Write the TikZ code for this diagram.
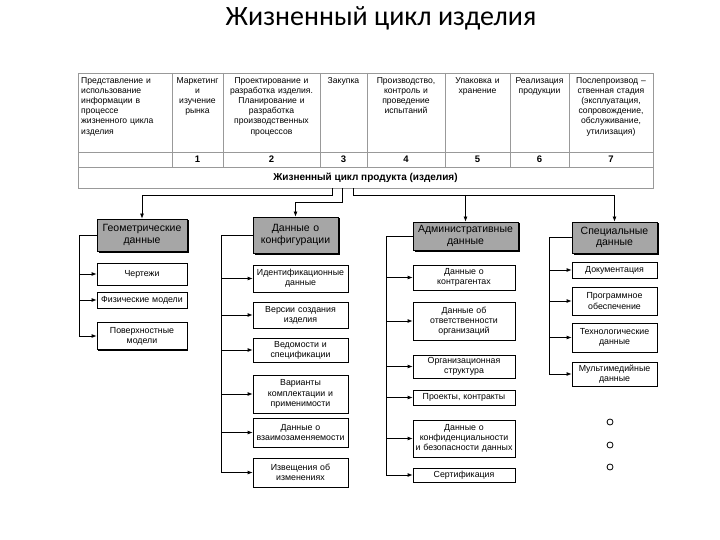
\documentclass[tikz,border=0pt]{standalone}
\usepackage{fontspec}
\setmainfont{Liberation Sans}
\newfontfamily\titlefont{Carlito}
\usetikzlibrary{arrows.meta,shadows}

\begin{document}
\begin{tikzpicture}
    [x=1pt,y=-1pt,
    table line/.style={draw=gray!80,line width=0.8pt},
    head cell/.style={anchor=north,align=center,inner sep=0pt,font=\fontsize{8.6}{10.2}\selectfont},
    number cell/.style={inner sep=0pt,font=\bfseries\fontsize{9.5}{10}\selectfont},
    category/.style={draw=black,line width=0.8pt,fill=gray!70,
        drop shadow={shadow xshift=1.5pt,shadow yshift=-1.5pt,fill=black,opacity=1},
        align=center,inner sep=1pt,font=\fontsize{10.5}{11.5}\selectfont},
    item/.style={draw=black,line width=0.8pt,fill=white,
        drop shadow={shadow xshift=1.2pt,shadow yshift=-1.2pt,fill=black,opacity=1},
        align=center,inner sep=1pt,font=\fontsize{8.8}{10.2}\selectfont},
    dot/.style={circle,draw=black,line width=0.8pt,minimum size=6pt,inner sep=0pt},
    link/.style={line width=0.8pt},
    link arrow/.style={line width=0.8pt,-{Latex[length=5pt,width=4pt]}},
    ]
    \useasboundingbox (0,0) rectangle (720,540);

    %title
    \node[font=\titlefont\fontsize{28}{32}\selectfont] (title) at (381,18) {Жизненный цикл изделия};

    %table
    \draw[table line] (78,73) rectangle (653,167);
    \draw[table line] (78,152) -- (653,152);
    \draw[table line] (172,73) -- (172,167);
    \draw[table line] (223,73) -- (223,167);
    \draw[table line] (320,73) -- (320,167);
    \draw[table line] (367,73) -- (367,167);
    \draw[table line] (445,73) -- (445,167);
    \draw[table line] (510,73) -- (510,167);
    \draw[table line] (569,73) -- (569,167);
    \node[head cell,anchor=north west,align=left,text width=88pt] (info) at (81,77)
        {Представление и\\использование\\информации в\\процессе\\жизненного цикла\\изделия};
    \node[head cell,text width=49pt] (market) at (197.5,77) {Маркетинг\\и\\изучение\\рынка};
    \node[head cell,text width=95pt] (design) at (271.5,77)
        {Проектирование и\\разработка изделия.\\Планирование и\\разработка\\производственных\\процессов};
    \node[head cell,text width=45pt] (buy) at (343.5,77) {Закупка};
    \node[head cell,text width=76pt] (make) at (406,77) {Производство,\\контроль и\\проведение\\испытаний};
    \node[head cell,text width=63pt] (pack) at (477.5,77) {Упаковка и\\хранение};
    \node[head cell,text width=57pt] (sale) at (539.5,77) {Реализация\\продукции};
    \node[head cell,text width=82pt] (after) at (611,77)
        {Послепроизвод –\\ственная стадия\\(эксплуатация,\\сопровождение,\\обслуживание,\\утилизация)};
    \node[number cell] (n1) at (197.5,159.5) {1};
    \node[number cell] (n2) at (271.5,159.5) {2};
    \node[number cell] (n3) at (343.5,159.5) {3};
    \node[number cell] (n4) at (406,159.5) {4};
    \node[number cell] (n5) at (477.5,159.5) {5};
    \node[number cell] (n6) at (539.5,159.5) {6};
    \node[number cell] (n7) at (611,159.5) {7};
    \node[table line,minimum width=575pt,minimum height=21pt,inner sep=0pt,
        font=\bfseries\fontsize{10}{11}\selectfont] (life) at (365.5,177.5) {Жизненный цикл продукта (изделия)};

    %categories
    \node[category,minimum width=90pt,minimum height=32pt,text width=86pt] (geo) at (142,235) {Геометрические\\данные};
    \node[category,minimum width=85pt,minimum height=36pt,text width=81pt] (conf) at (295.5,235) {Данные о\\конфигурации};
    \node[category,minimum width=105pt,minimum height=28pt,text width=101pt] (adm) at (465.5,236) {Административные\\данные};
    \node[category,minimum width=85pt,minimum height=31pt,text width=81pt] (spec) at (614.5,237.5) {Специальные\\данные};

    %from the life cycle row
    \coordinate (s1) at (332,195);
    \coordinate (s2) at (342,202);
    \coordinate (s3) at (353,195);
    \draw[link arrow] (life.south -| s1) -- (s1) -| (geo.north);
    \draw[link arrow] (life.south -| s2) -- (s2) -| (conf.north);
    \draw[link arrow] (life.south -| s3) -- (s3) -| (spec.north);
    \draw[link arrow] (s3 -| adm.north) -- (adm.north);

    %geometric data
    \node[item,minimum width=90pt,minimum height=22pt,text width=86pt] (g1) at (142,274) {Чертежи};
    \node[item,minimum width=90pt,minimum height=16pt,text width=86pt] (g2) at (142,300) {Физические модели};
    \node[item,minimum width=90pt,minimum height=27pt,text width=86pt] (g3) at (142,336) {Поверхностные\\модели};
    \coordinate (gbus) at (79,0);
    \draw[link] (geo.west) -- (geo.west -| gbus) -- (gbus |- g3.west);
    \draw[link arrow] (gbus |- g1.west) -- (g1.west);
    \draw[link arrow] (gbus |- g2.west) -- (g2.west);
    \draw[link arrow] (gbus |- g3.west) -- (g3.west);

    %configuration data
    \node[item,minimum width=95pt,minimum height=27pt,text width=93pt] (c1) at (300.5,278.5) {Идентификационные\\данные};
    \node[item,minimum width=95pt,minimum height=26pt,text width=91pt] (c2) at (300.5,315) {Версии создания\\изделия};
    \node[item,minimum width=95pt,minimum height=24pt,text width=91pt] (c3) at (300.5,350) {Ведомости и\\спецификации};
    \node[item,minimum width=95pt,minimum height=38pt,text width=91pt] (c4) at (300.5,394) {Варианты\\комплектации и\\применимости};
    \node[item,minimum width=95pt,minimum height=29pt,text width=93pt] (c5) at (300.5,432.5) {Данные о\\взаимозаменяемости};
    \node[item,minimum width=95pt,minimum height=29pt,text width=91pt] (c6) at (300.5,472.5) {Извещения об\\изменениях};
    \coordinate (cbus) at (221,0);
    \draw[link] (conf.west) -- (conf.west -| cbus) -- (cbus |- c6.west);
    \draw[link arrow] (cbus |- c1.west) -- (c1.west);
    \draw[link arrow] (cbus |- c2.west) -- (c2.west);
    \draw[link arrow] (cbus |- c3.west) -- (c3.west);
    \draw[link arrow] (cbus |- c4.west) -- (c4.west);
    \draw[link arrow] (cbus |- c5.west) -- (c5.west);
    \draw[link arrow] (cbus |- c6.west) -- (c6.west);

    %administrative data
    \node[item,minimum width=102pt,minimum height=25pt,text width=98pt] (a1) at (464,277.5) {Данные о\\контрагентах};
    \node[item,minimum width=102pt,minimum height=38pt,text width=98pt] (a2) at (464,321) {Данные об\\ответственности\\организаций};
    \node[item,minimum width=102pt,minimum height=23pt,text width=98pt] (a3) at (464,366.5) {Организационная\\структура};
    \node[item,minimum width=102pt,minimum height=15pt,text width=98pt] (a4) at (464,397.5) {Проекты, контракты};
    \node[item,minimum width=102pt,minimum height=37pt,text width=100pt] (a5) at (464,438.5) {Данные о\\конфиденциальности\\и безопасности данных};
    \node[item,minimum width=102pt,minimum height=14pt,text width=98pt] (a6) at (464,475) {Сертификация};
    \coordinate (abus) at (386,0);
    \draw[link] (adm.west) -- (adm.west -| abus) -- (abus |- a6.west);
    \draw[link arrow] (abus |- a1.west) -- (a1.west);
    \draw[link arrow] (abus |- a2.west) -- (a2.west);
    \draw[link arrow] (abus |- a3.west) -- (a3.west);
    \draw[link arrow] (abus |- a4.west) -- (a4.west);
    \draw[link arrow] (abus |- a5.west) -- (a5.west);
    \draw[link arrow] (abus |- a6.west) -- (a6.west);

    %special data
    \node[item,minimum width=85pt,minimum height=16pt,text width=81pt] (p1) at (614.5,270) {Документация};
    \node[item,minimum width=85pt,minimum height=28pt,text width=81pt] (p2) at (614.5,301) {Программное\\обеспечение};
    \node[item,minimum width=85pt,minimum height=29pt,text width=81pt] (p3) at (614.5,337.5) {Технологические\\данные};
    \node[item,minimum width=85pt,minimum height=24pt,text width=81pt] (p4) at (614.5,374) {Мультимедийные\\данные};
    \coordinate (pbus) at (549,0);
    \draw[link] (spec.west) -- (spec.west -| pbus) -- (pbus |- p4.west);
    \draw[link arrow] (pbus |- p1.west) -- (p1.west);
    \draw[link arrow] (pbus |- p2.west) -- (p2.west);
    \draw[link arrow] (pbus |- p3.west) -- (p3.west);
    \draw[link arrow] (pbus |- p4.west) -- (p4.west);
    \node[dot] (d1) at (610,422) {};
    \node[dot] (d2) at (610,445) {};
    \node[dot] (d3) at (610,467) {};

\end{tikzpicture}
\end{document}
